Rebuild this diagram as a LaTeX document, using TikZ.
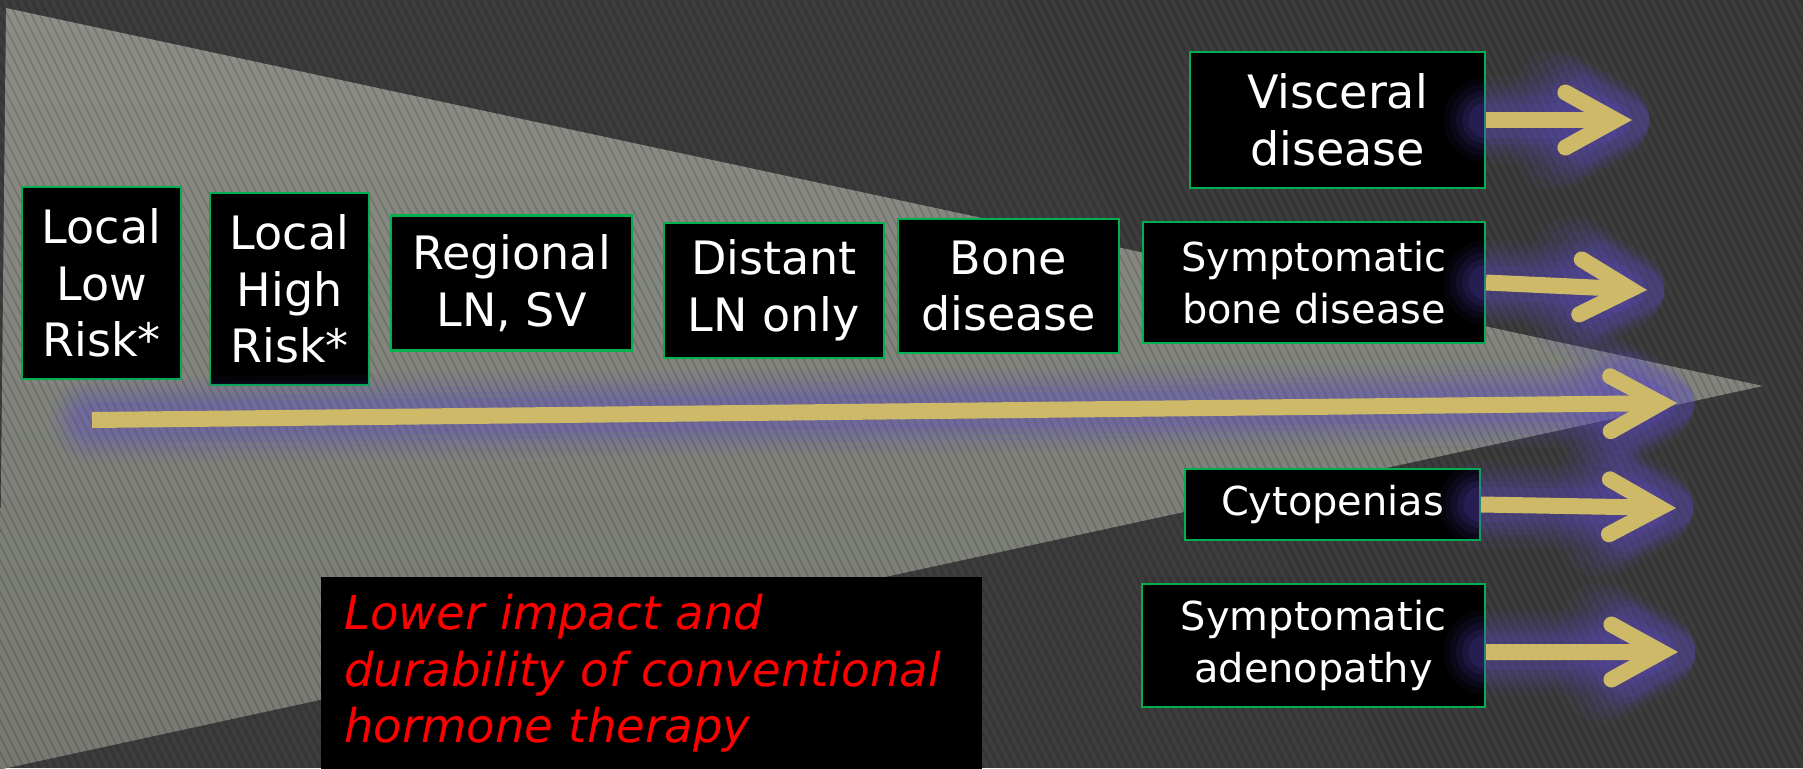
\documentclass[tikz,border=0pt]{standalone}
\usepackage{fontspec}
\setmainfont{DejaVu Sans}
\usepackage{xcolor}
\usepackage{tikz}
\usetikzlibrary{arrows.meta, calc}

\definecolor{bggray}{HTML}{3C3C3C}
\definecolor{wedgetop}{HTML}{8C8E87}
\definecolor{wedgebot}{HTML}{777A72}
\definecolor{boxgreen}{HTML}{00B050}
\definecolor{arrowgold}{HTML}{CDB967}
\definecolor{glowpurple}{HTML}{5E4CC4}

\newcommand{\stagefont}{\fontsize{26.2}{32.2}\selectfont}
\newcommand{\notefont}{\fontsize{22.7}{29.6}\selectfont}
\newcommand{\impactfont}{\fontsize{26.5}{32}\selectfont\itshape}

\begin{document}
\begin{tikzpicture}[
  x=0.02cm, y=-0.02cm,
  stage/.style={
    rectangle,
    draw=boxgreen,
    line width=1.2pt,
    fill=black,
    text=white,
    align=center,
    inner sep=0pt,
    font=\stagefont
  },
  stagesmall/.style={stage, font=\notefont},
  stripe/.style={black, opacity=0.14, line width=0.04cm},
  glow/.style={draw=glowpurple, line cap=round,
    -{Straight Barb[length=1.0cm, width=1.1cm, line cap=round, line join=round]},
    shorten >=-0.35cm},
  arrow/.style={draw=arrowgold, line width=0.32cm,
    -{Straight Barb[length=1.0cm, width=1.1cm, line cap=round, line join=miter]}}
]

  % Background and wedge
  \useasboundingbox (0,0) rectangle (1803,768);
  \fill [bggray] (0,0) rectangle (1803,768);
  \shade [top color=wedgetop, bottom color=wedgebot] (6,8) -- (1763,386) -- (-2,770) -- cycle;
  \begin{scope}
    \clip (0,0) rectangle (1803,768);
    \foreach \s in {-392,-384,...,1800}
      \draw [stripe] (\s,0) -- ++(384,768);
  \end{scope}

  % Nodes
  \node (lowrisk)  [stage, minimum width=3.18cm, minimum height=3.84cm] at (101.5,283) {Local\\Low\\Risk*};
  \node (highrisk) [stage, minimum width=3.18cm, minimum height=3.84cm] at (289.5,289) {Local\\High\\Risk*};
  \node (regional) [stage, minimum width=4.82cm, minimum height=2.70cm] at (511.5,283) {Regional\\LN, SV};
  \node (distant)  [stage, minimum width=4.40cm, minimum height=2.70cm] at (774,290.5) {Distant\\LN only};
  \node (bone)     [stage, minimum width=4.42cm, minimum height=2.68cm] at (1008.5,286) {Bone\\disease};
  \node (visceral) [stage, minimum width=5.90cm, minimum height=2.72cm] at (1337.5,120) {Visceral\\disease};
  \node (sbone)    [stagesmall, minimum width=6.84cm, minimum height=2.42cm] at (1314,282.5) {Symptomatic\\bone disease};
  \node (cyto)     [stagesmall, minimum width=5.90cm, minimum height=1.42cm] at (1332.5,504.5) {Cytopenias};
  \node (sadeno)   [stagesmall, minimum width=6.86cm, minimum height=2.46cm] at (1313.5,645.5) {Symptomatic\\adenopathy};

  \node (impact) [anchor=north west, fill=black, text=red, font=\impactfont, align=left,
    text width=12.30cm, minimum height=3.84cm, inner xsep=0.46cm, inner ysep=0pt]
    at (321,577) {Lower impact and\\durability of conventional\\hormone therapy};

  % Arrow ends
  \coordinate (mainstart) at (92,420);
  \coordinate (maintip) at (1677,403);
  \coordinate (vistip) at (1632,120);
  \coordinate (sbonetip) at (1647,290);
  \coordinate (cytotip) at (1676,508);
  \coordinate (sadenostart) at ($(sadeno.east)+(0,6.5)$);
  \coordinate (sadenotip) at (1678,652);

  % Arrows
  \foreach \from/\to in {mainstart/maintip, visceral.east/vistip, sbone.east/sbonetip,
                         cyto.east/cytotip, sadenostart/sadenotip}{
    \foreach \w/\o in {1.7/0.06, 1.45/0.08, 1.2/0.1, 0.95/0.13, 0.7/0.16}
      \draw [glow, line width=\w cm, opacity=\o] (\from) -- (\to);
    \draw [arrow] (\from) -- (\to);
  }

\end{tikzpicture}
\end{document}
